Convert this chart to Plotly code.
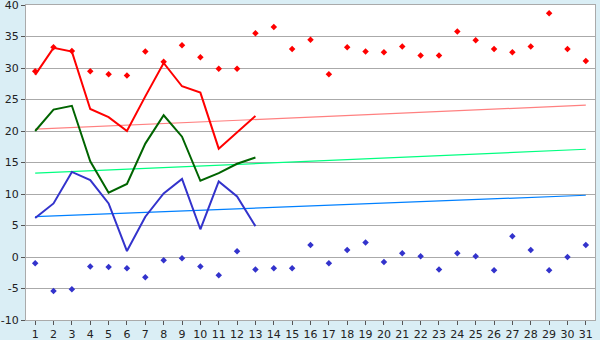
import plotly.graph_objects as go

days = list(range(1, 32))
max_temp = [29.5, 33.3, 32.7, 29.5, 29.0, 28.8, 32.6, 31.0, 33.6, 31.7, 29.9, 29.9, 35.5,
            36.5, 33.0, 34.5, 29.0, 33.3, 32.6, 32.5, 33.4, 32.0, 32.0, 35.8, 34.4, 33.0,
            32.5, 33.4, 38.7, 33.0, 31.1]
min_temp = [-1.0, -5.4, -5.1, -1.5, -1.6, -1.8, -3.2, -0.5, -0.2, -1.5, -2.9, 0.9, -2.0,
            -1.8, -1.8, 1.9, -1.0, 1.1, 2.3, -0.8, 0.6, 0.1, -2.0, 0.6, 0.1, -2.1,
            3.3, 1.1, -2.1, 0.0, 1.9]
line_days = list(range(1, 14))
red_line = [28.9, 33.2, 32.6, 23.5, 22.2, 20.0, 25.5, 30.8, 27.1, 26.1, 17.2, 19.8, 22.4]
green_line = [20.0, 23.4, 24.0, 15.2, 10.2, 11.6, 18.0, 22.5, 19.1, 12.1, 13.3, 14.8, 15.8]
blue_line = [6.2, 8.5, 13.5, 12.2, 8.5, 0.95, 6.4, 10.1, 12.4, 4.4, 12.0, 9.6, 4.9]
trend_x = [1, 31]
red_trend = [20.3, 24.1]
green_trend = [13.3, 17.1]
blue_trend = [6.4, 9.8]
y_ticks = list(range(-10, 41, 5))
y_tick_labels = [str(v) for v in y_ticks]

fig = go.Figure()
fig.add_trace(go.Scatter(x=trend_x, y=red_trend, mode="lines", line=dict(color="#ff8080", width=1.2)))
fig.add_trace(go.Scatter(x=trend_x, y=green_trend, mode="lines", line=dict(color="#00ff80", width=1.2)))
fig.add_trace(go.Scatter(x=trend_x, y=blue_trend, mode="lines", line=dict(color="#0080ff", width=1.2)))
fig.add_trace(go.Scatter(x=days, y=max_temp, mode="markers",
                         marker=dict(symbol="diamond", size=5, color="#ff0000")))
fig.add_trace(go.Scatter(x=days, y=min_temp, mode="markers",
                         marker=dict(symbol="diamond", size=5, color="#3333cc")))
fig.add_trace(go.Scatter(x=line_days, y=red_line, mode="lines", line=dict(color="#ff0000", width=2)))
fig.add_trace(go.Scatter(x=line_days, y=green_line, mode="lines", line=dict(color="#006400", width=2)))
fig.add_trace(go.Scatter(x=line_days, y=blue_line, mode="lines", line=dict(color="#3333cc", width=2)))

fig.update_layout(
    width=600, height=340,
    margin=dict(l=26, r=5, t=5, b=20),
    paper_bgcolor="#daeef5", plot_bgcolor="#ffffff",
    showlegend=False,
    font=dict(family="DejaVu Sans", size=11, color="#222222"),
)
fig.update_xaxes(range=[0.5, 31.5], tickvals=days, ticktext=[str(d) for d in days],
                 showgrid=False, zeroline=False, showline=True, linecolor="#aaaaaa", mirror=True,
                 ticks="outside", ticklen=4, tickcolor="#555555", tickfont=dict(size=11),
                 automargin=False, ticklabeloverflow="allow")
fig.update_yaxes(range=[-10, 40], tickvals=y_ticks, ticktext=y_tick_labels,
                 showgrid=True, gridcolor="#aaaaaa", gridwidth=1, zeroline=False,
                 showline=True, linecolor="#aaaaaa", mirror=True,
                 ticks="outside", ticklen=4, tickcolor="#555555", tickfont=dict(size=11),
                 automargin=False, ticklabeloverflow="allow")

fig.write_html("out.html")
